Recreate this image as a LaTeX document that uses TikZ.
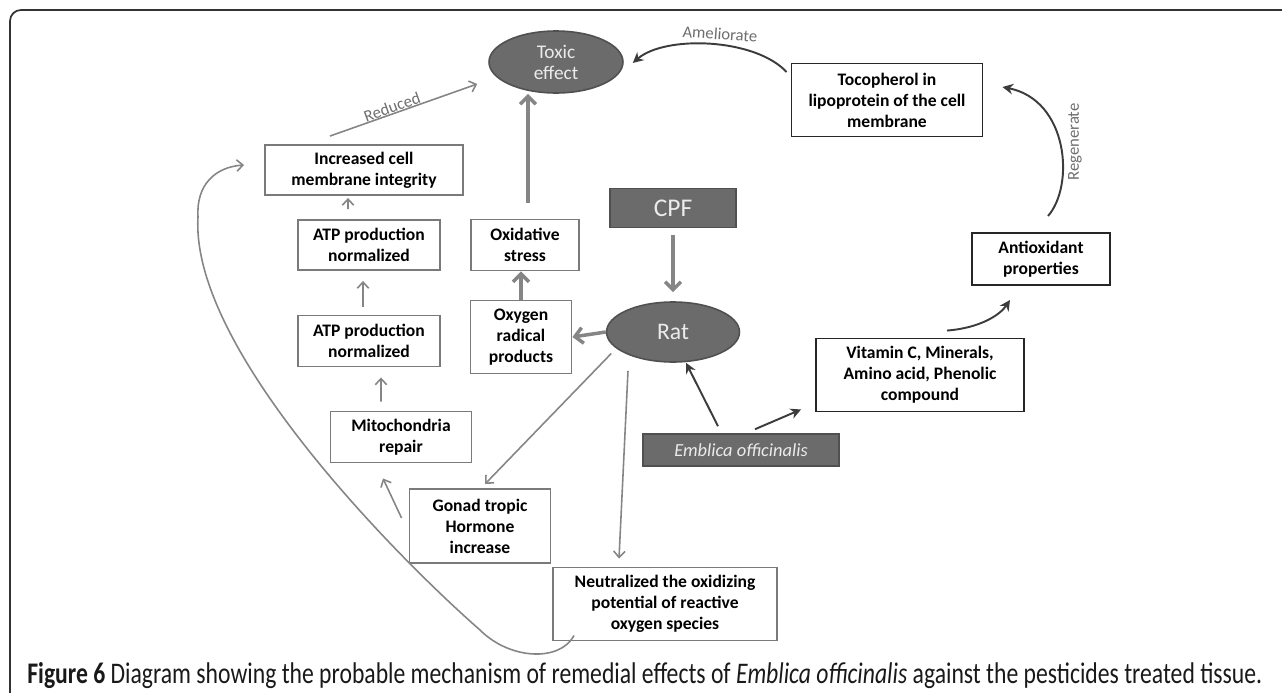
\documentclass[tikz,border=0pt]{standalone}
\usepackage{graphicx}
\usepackage{fontspec}
\setmainfont{Carlito}
\usetikzlibrary{arrows.meta,shapes.geometric}

\definecolor{boxgray}{HTML}{7A7A7A}
\definecolor{arrgray}{HTML}{858585}
\definecolor{fillgray}{HTML}{6B6B6B}
\definecolor{edgegray}{HTML}{505050}
\definecolor{lightfont}{HTML}{EBEBEB}
\definecolor{labelgray}{HTML}{6E6E6E}
\definecolor{darkarr}{HTML}{3C3C3C}

\tikzset{
  graybox/.style={draw=boxgray, line width=1.1pt, fill=white, align=center, inner sep=1pt,
    font=\fontsize{10}{12}\selectfont\bfseries},
  blackbox/.style={graybox, draw=black!85},
  darkoval/.style={ellipse, draw=edgegray, line width=0.9pt, fill=fillgray, text=lightfont,
    inner sep=0pt, align=center},
  darkbox/.style={draw=edgegray, line width=0.9pt, fill=fillgray, text=lightfont, inner sep=0pt},
  thinarrow/.style={draw=arrgray, line width=0.9pt, -{Straight Barb[length=3.5pt,width=6.5pt]}},
  thickarrow/.style={draw=arrgray, line width=2pt, -{Straight Barb[length=4.5pt,width=9pt]}},
  darkarrow/.style={draw=darkarr, line width=1.1pt, -{Stealth[length=6pt,width=6pt]}},
  curvelabel/.style={text=labelgray, font=\fontsize{9.5}{11}\selectfont, inner sep=0pt},
}

\begin{document}
\begin{tikzpicture}[x=0.02cm, y=-0.02cm]
\useasboundingbox (0,0) rectangle (1282,693);

% frame:
\draw[line width=1pt, draw=black!80, rounded corners=0.22cm] (1290,10) -- (10,10) -- (10,700);

% nodes:
\node[darkoval, minimum width=2.68cm, minimum height=1.24cm, font=\fontsize{11}{12}\selectfont] (toxic) at (556,62) {Toxic\\effect};
\node[graybox, minimum width=3.96cm, minimum height=1cm] (membrane) at (364,170) {Increased cell\\membrane integrity};
\node[graybox, minimum width=2.84cm, minimum height=1cm] (atpup) at (369,245) {ATP production\\normalized};
\node[graybox, minimum width=2.84cm, minimum height=1.02cm] (atplow) at (369,341) {ATP production\\normalized};
\node[graybox, minimum width=2.82cm, minimum height=1.02cm] (mito) at (401,437) {Mitochondria\\repair};
\node[graybox, minimum width=2.82cm, minimum height=1.48cm] (gonad) at (480,526) {Gonad tropic\\Hormone\\increase};
\node[graybox, minimum width=4.48cm, minimum height=1.46cm] (neutral) at (665,604) {Neutralized the oxidizing\\potential of reactive\\oxygen species};
\node[graybox, minimum width=2.02cm, minimum height=1.46cm] (radical) at (521,337) {Oxygen\\radical\\products};
\node[graybox, minimum width=2.16cm, minimum height=1.02cm] (stress) at (525,245) {Oxidative\\stress};
\node[darkoval, minimum width=2.66cm, minimum height=1.2cm, font=\fontsize{13.5}{14}\selectfont] (rat) at (673,332) {Rat};
\node[darkbox, minimum width=2.52cm, minimum height=0.78cm, font=\fontsize{14.5}{15}\selectfont] (cpf) at (673,208) {CPF};
\node[darkbox, minimum width=3.92cm, minimum height=0.64cm, font=\fontsize{10.5}{12}\selectfont\itshape] (emblica) at (741,450) {Emblica officinalis};
\node[blackbox, minimum width=4.16cm, minimum height=1.46cm] (vitamin) at (920,375) {Vitamin C, Minerals,\\Amino acid, Phenolic\\compound};
\node[blackbox, minimum width=2.76cm, minimum height=1.04cm] (antiox) at (1041,259) {Antioxidant\\properties};
\node[blackbox, minimum width=3.82cm, minimum height=1.46cm] (tocoph) at (887,100) {Tocopherol in\\lipoprotein of the cell\\membrane};

% left column:
\draw[thinarrow, shorten <=0.2cm, shorten >=0.04cm] ([xshift=-0.42cm]atpup.north) -- ([xshift=-0.32cm]membrane.south);
\draw[thinarrow, shorten <=0.16cm, shorten >=0.2cm] ([xshift=-0.12cm]atplow.north) -- ([xshift=-0.12cm]atpup.south);
\draw[thinarrow, shorten <=0.18cm, shorten >=0.2cm] ([xshift=-0.4cm]mito.north) -- ([xshift=0.24cm]atplow.south);
\draw[thinarrow] ([shift={(-7,-8)}]gonad.west) -- ([shift={(-18,15)}]mito.south);
\draw[thinarrow] ([shift={(-34,-8)}]membrane.north) -- ([shift={(-11,22)}]toxic.west);
\node[curvelabel, rotate=20] (reduced) at (392,107) {Reduced};

% from rat:
\draw[thinarrow] ([shift={(-8,3)}]rat.199) -- ([shift={(5,-4)}]gonad.north);
\draw[thinarrow] ([shift={(-45,8)}]rat.south) -- ([shift={(-46,-8)}]neutral.north);
\draw[thickarrow] (rat.west) -- (radical.east);
\draw[thickarrow] (radical.north) -- (radical.north |- stress.south);
\draw[thickarrow, shorten <=0.32cm] ([xshift=0.06cm]stress.north) -- ([xshift=0.06cm]stress.north |- toxic.south);
\draw[thickarrow, shorten <=0.14cm, shorten >=0.18cm] (cpf.south) -- (rat.north);

% emblica:
\draw[darkarrow] ([shift={(-23,-7)}]emblica.north) -- ([shift={(13,0)}]rat.south);
\draw[darkarrow] ([shift={(14,-4)}]emblica.north) -- ([shift={(-14,-3)}]vitamin.south west);

% right side:
\draw[darkarrow] ([shift={(27,-7)}]vitamin.north) .. controls (980,328) and (1000,315) .. ([shift={(-31,14)}]antiox.south);
\draw[darkarrow] ([shift={(7,-16)}]antiox.north) .. controls (1075,185) and (1068,100) .. ([shift={(19,-13)}]tocoph.east);
\node[curvelabel, rotate=90] (regen) at (1075,142) {Regenerate};
\draw[darkarrow] ([shift={(-4,-28)}]tocoph.west) .. controls (755,38) and (665,35) .. ([shift={(9,1)}]toxic.east);
\node[curvelabel, rotate=-4] (amelio) at (720,34) {Ameliorate};

% feedback loop:
\draw[thinarrow] ([shift={(22,-6)}]neutral.south west) .. controls (560,662) and (510,660) .. (480,630)
  .. controls (400,560) and (190,350) .. (198,217) .. controls (196,185) and (215,167) .. ([shift={(-20,-5)}]membrane.west);

% caption:
\node[anchor=base west, inner sep=0pt, text=black!90] (caption) at (27,683) {\resizebox{24.7cm}{0.42cm}{\textbf{Figure 6} Diagram showing the probable mechanism of remedial effects of \textit{Emblica officinalis} against the pesticides treated tissue.}};

\end{tikzpicture}
\end{document}
